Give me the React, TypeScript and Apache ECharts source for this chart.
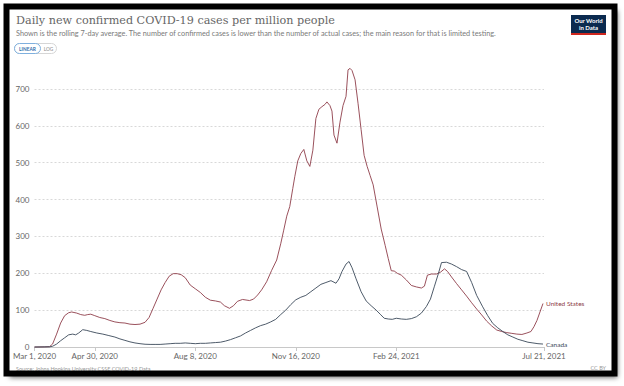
import React, { useEffect, useRef } from "react";
import * as echarts from "echarts";

// x values: days since 2020-03-01
const usDay = [0, 10, 15, 18, 22, 26, 30, 34, 37, 42, 46, 50, 53, 56, 60, 65, 70, 75, 80, 85, 90, 95, 100, 105, 110, 114, 118, 122, 126, 130, 134, 138, 142, 146, 150, 155, 160, 165, 170, 175, 180, 185, 189, 194, 198, 202, 207, 214, 218, 222, 226, 231, 236, 241, 245, 248, 251, 254, 257, 259, 262, 265, 268, 271, 274, 277, 280, 283, 286, 289, 291, 294, 296, 298, 301, 304, 307, 310, 312, 314, 316, 319, 322, 325, 328, 331, 334, 337, 341, 345, 349, 352, 355, 358, 361, 365, 370, 375, 380, 385, 388, 391, 395, 400, 404, 408, 411, 415, 420, 425, 430, 435, 440, 445, 450, 455, 460, 465, 470, 475, 480, 485, 490, 494, 497, 500, 503, 506];
const usValue = [0, 0.3, 1, 8, 35, 65, 85, 93, 95, 92, 88, 86, 88, 89, 85, 80, 77, 72, 68, 66, 65, 62, 61, 62, 67, 80, 105, 130, 155, 175, 192, 199, 199, 196, 188, 168, 158, 148, 135, 127, 125, 122, 112, 105, 112, 124, 129, 126, 130, 141, 155, 177, 208, 236, 280, 317, 355, 381, 430, 462, 505, 525, 536, 505, 490, 534, 620, 645, 652, 658, 665, 655, 640, 575, 553, 610, 655, 680, 752, 756, 750, 725, 660, 590, 520, 490, 465, 440, 380, 320, 275, 240, 207, 206, 200, 195, 182, 167, 163, 160, 165, 195, 198, 198, 203, 212, 205, 190, 172, 155, 138, 120, 103, 87, 70, 57, 46, 42, 39, 37, 35, 34, 38, 42, 55, 72, 95, 118];

const caDay = [0, 15, 18, 22, 26, 30, 34, 38, 41, 44, 48, 52, 56, 62, 68, 74, 80, 85, 90, 95, 100, 105, 110, 115, 120, 125, 130, 135, 140, 145, 150, 155, 160, 165, 170, 175, 180, 185, 190, 195, 200, 205, 210, 215, 220, 225, 230, 235, 240, 245, 250, 255, 260, 265, 270, 275, 280, 285, 290, 295, 300, 303, 306, 310, 313, 316, 320, 325, 330, 335, 340, 344, 348, 352, 356, 360, 365, 370, 375, 380, 385, 390, 394, 398, 402, 405, 410, 415, 420, 425, 430, 435, 440, 446, 451, 456, 461, 466, 471, 476, 481, 486, 491, 496, 501, 506];
const caValue = [0, 0.5, 2, 8, 17, 25, 33, 35, 33, 38, 47, 45, 42, 38, 35, 31, 27, 22, 18, 14, 11, 9, 7.5, 7, 7, 7, 8, 9, 10, 10, 11, 10, 9, 10, 10, 11, 12, 13, 16, 20, 25, 30, 38, 45, 52, 58, 62, 68, 75, 88, 100, 115, 128, 135, 140, 150, 160, 170, 175, 180, 173, 185, 205, 225, 232, 215, 185, 150, 125, 112, 100, 89, 78, 76, 75, 78, 76, 75, 77, 82, 92, 110, 130, 165, 200, 229, 230, 225, 218, 210, 205, 175, 140, 109, 85, 64, 52, 42, 33, 27, 21, 17, 13, 11, 9, 8];

const tickDates = ["2020-03-01", "2020-04-30", "2020-08-08", "2020-11-16", "2021-02-24", "2021-07-21"];
const tickLabels = ["Mar 1, 2020", "Apr 30, 2020", "Aug 8, 2020", "Nov 16, 2020", "Feb 24, 2021", "Jul 21, 2021"];

const seriesNames = ["United States", "Canada"];
const seriesColors = ["#8e3d49", "#3a4859"];

const titleText = "Daily new confirmed COVID-19 cases per million people";
const subtitleText = "Shown is the rolling 7-day average. The number of confirmed cases is lower than the number of actual cases; the main reason for that is limited testing.";
const sourceText = "Source: Johns Hopkins University CSSE COVID-19 Data";

const START = Date.UTC(2020, 2, 1);
const toDay = (s: string) => Math.round((Date.parse(s + "T00:00:00Z") - START) / 86400000);
const tickDays = tickDates.map(toDay);

export default function App() {
  const ref = useRef<HTMLDivElement>(null);
  useEffect(() => {
    if (!ref.current) return;
    const chart = echarts.init(ref.current, null, { renderer: "svg" });
    const font = "Lato";
    const mk = (days: number[], vals: number[], i: number) => ({
      type: "line",
      name: seriesNames[i],
      data: days.map((d, k) => [d, vals[k]]),
      showSymbol: false,
      clip: false,
      lineStyle: { color: seriesColors[i], width: 0.9 },
      itemStyle: { color: seriesColors[i] },
      endLabel: {
        show: true,
        formatter: "{a}",
        color: seriesColors[i],
        fontSize: 6.5,
        fontFamily: font,
        distance: 3,
      },
      z: 3,
    });
    chart.setOption({
      animation: false,
      backgroundColor: "transparent",
      grid: { left: 34.5, right: 80, top: 89, bottom: 39 },
      xAxis: {
        type: "value",
        min: 0,
        max: tickDays[tickDays.length - 1],
        axisLine: { show: true, lineStyle: { color: "#c8c8c8", width: 1 } },
        axisTick: { show: true, customValues: tickDays, length: 4, lineStyle: { color: "#c8c8c8" } },
        axisLabel: {
          customValues: tickDays,
          formatter: (v: number) => tickLabels[tickDays.indexOf(Math.round(v))] ?? "",
          color: "#666",
          fontSize: 8,
          fontFamily: font,
          margin: 5,
        },
        splitLine: { show: false },
      },
      yAxis: {
        type: "value",
        min: 0,
        max: 700,
        interval: 100,
        axisLine: { show: false },
        axisTick: { show: false },
        axisLabel: { color: "#666", fontSize: 8, fontFamily: font, margin: 5 },
        splitLine: { show: true, lineStyle: { color: "#d8d8d8", type: [2, 2], width: 1 } },
      },
      series: [mk(usDay, usValue, 0), mk(caDay, caValue, 1)],
      graphic: [
        {
          type: "rect",
          z: -10,
          shape: { x: 6.5, y: 6.5, width: 608, height: 367 },
          style: { fill: "#fff", shadowBlur: 5, shadowColor: "rgba(0,0,0,0.6)", shadowOffsetX: 3, shadowOffsetY: 4 },
        },
        {
          type: "text",
          x: 16,
          y: 15,
          style: { text: titleText, fontSize: 11.2, fontFamily: "DejaVu Serif", fill: "#666" },
        },
        {
          type: "text",
          x: 16,
          y: 30,
          style: { text: subtitleText, fontSize: 7.3, fontFamily: font, fill: "#7a7a7a" },
        },
        {
          type: "rect",
          shape: { x: 14.5, y: 43.5, width: 42, height: 10, r: 5 },
          style: { fill: "#fff", stroke: "#d6d6d6", lineWidth: 1 },
        },
        {
          type: "rect",
          shape: { x: 14.5, y: 43.5, width: 26, height: 10, r: 5 },
          style: { fill: "#fff", stroke: "#7fb0de", lineWidth: 1 },
        },
        {
          type: "text",
          x: 27.5,
          y: 48.5,
          style: { text: "LINEAR", fontSize: 4.8, fontFamily: font, fontWeight: "bold", fill: "#2f6eaa", align: "center", verticalAlign: "middle" },
        },
        {
          type: "text",
          x: 48.5,
          y: 48.5,
          style: { text: "LOG", fontSize: 4.8, fontFamily: font, fill: "#888", align: "center", verticalAlign: "middle" },
        },
        {
          type: "rect",
          shape: { x: 571, y: 15, width: 35, height: 20 },
          style: { fill: "#0b2a4f" },
        },
        {
          type: "rect",
          shape: { x: 571, y: 33, width: 35, height: 2 },
          style: { fill: "#ce261e" },
        },
        {
          type: "text",
          x: 588.5,
          y: 20.5,
          style: { text: "Our World", fontSize: 6, fontFamily: font, fontWeight: "bold", fill: "#fff", align: "center", verticalAlign: "middle" },
        },
        {
          type: "text",
          x: 588.5,
          y: 27.5,
          style: { text: "in Data", fontSize: 6, fontFamily: font, fontWeight: "bold", fill: "#fff", align: "center", verticalAlign: "middle" },
        },
        {
          type: "text",
          x: 16,
          y: 369,
          style: { text: sourceText, fontSize: 5.5, fontFamily: font, fill: "#999", verticalAlign: "middle" },
        },
        {
          type: "text",
          x: 606,
          y: 368,
          style: { text: "CC BY", fontSize: 5.5, fontFamily: font, fill: "#999", align: "right", verticalAlign: "middle" },
        },
        {
          type: "rect",
          z: 100,
          shape: { x: 6.5, y: 6.5, width: 608, height: 367 },
          style: { fill: "none", stroke: "#000", lineWidth: 6 },
        },
      ],
    });
    return () => chart.dispose();
  }, []);
  return (
    <div
      ref={ref}
      style={{ position: "absolute", left: 0, top: 0, width: 624, height: 386 }}
    />
  );
}
